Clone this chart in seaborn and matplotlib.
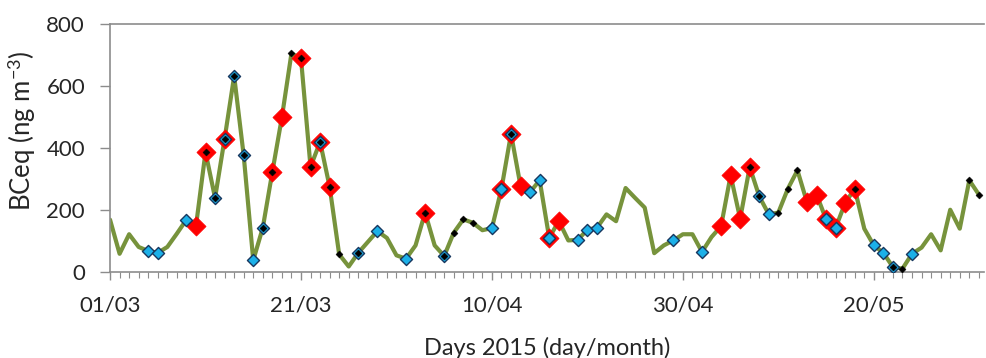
import numpy as np
import pandas as pd
import matplotlib
matplotlib.use("Agg")
import matplotlib.pyplot as plt
import matplotlib.dates as mdates
import seaborn as sns

# daily BCeq values, 01/03/2015 .. 31/05/2015
bceq = [169, 59, 122, 81, 68, 62, 81, 124, 169, 148,
        387, 239, 430, 632, 376, 38, 143, 323, 499, 705,
        689, 339, 420, 275, 57, 18, 62, 97, 132, 110,
        54, 43, 86, 192, 86, 52, 127, 170, 159, 135,
        142, 269, 446, 277, 258, 296, 110, 165, 102, 104,
        137, 143, 186, 164, 271, 239, 208, 61, 86, 102,
        122, 122, 65, 113, 148, 312, 172, 339, 244, 186,
        192, 269, 328, 225, 250, 170, 143, 223, 269, 140,
        86, 62, 16, 11, 59, 79, 122, 70, 201, 140,
        296, 250]
dates = pd.date_range("2015-03-01", periods=len(bceq), freq="D")

# day indices (from 01/03) flagged by each marker class
red_days = [9, 10, 12, 17, 18, 20, 21, 22, 23, 33, 41, 42, 43, 46, 47,
            64, 65, 66, 67, 73, 74, 75, 76, 77, 78]
blue_days = [4, 5, 8, 11, 12, 13, 14, 15, 16, 22, 26, 28, 31, 35, 40, 41, 42,
             44, 45, 46, 49, 50, 51, 59, 62, 68, 69, 75, 76, 80, 81, 82, 84]
black_days = [10, 11, 12, 13, 14, 16, 17, 19, 20, 21, 22, 23, 24, 26, 33, 35,
              36, 37, 38, 42, 67, 68, 70, 71, 72, 78, 82, 83, 90, 91]

tick_labels = ["01/03", "21/03", "10/04", "30/04", "20/05"]
yticks = [0, 200, 400, 600, 800]

df = pd.DataFrame({"date": dates, "bceq": bceq})

sns.set_style("white")
plt.rcParams["font.family"] = ["Lato", "DejaVu Sans"]
plt.rcParams["mathtext.fontset"] = "custom"
plt.rcParams["mathtext.rm"] = "Lato"
plt.rcParams["mathtext.it"] = "Lato:italic"
plt.rcParams["mathtext.bf"] = "Lato:bold"

fig = plt.figure(figsize=(9.86, 3.58), dpi=100)
ax = fig.add_axes([0.1116, 0.240, 0.886, 0.693])

sns.lineplot(data=df, x="date", y="bceq", ax=ax, color="#77933C", lw=3.0, zorder=2)
sns.scatterplot(data=df.iloc[red_days], x="date", y="bceq", ax=ax, marker="D",
                s=95, color="#FF0000", edgecolor="#FF0000", linewidth=0.5, zorder=3)
sns.scatterplot(data=df.iloc[blue_days], x="date", y="bceq", ax=ax, marker="D",
                s=38, color="#1CB0E8", edgecolor="#17375E", linewidth=1.0, zorder=4)
sns.scatterplot(data=df.iloc[black_days], x="date", y="bceq", ax=ax, marker="D",
                s=13, color="black", edgecolor="black", linewidth=0.3, zorder=5)

ax.set_ylim(0, 800)
ax.set_yticks(yticks)
ax.set_yticklabels([str(v) for v in yticks])
ax.set_xlim(dates[0], dates[0] + pd.Timedelta(days=91.5))
tick_pos = [pd.to_datetime(t + "/2015", format="%d/%m/%Y") for t in tick_labels]
ax.set_xticks(tick_pos)
ax.set_xticklabels(tick_labels)
ax.xaxis.set_minor_locator(mdates.DayLocator())

for s in ["left", "bottom", "top"]:
    ax.spines[s].set_color("#8C8C8C")
    ax.spines[s].set_linewidth(1.2)
ax.spines["right"].set_visible(False)

ax.tick_params(axis="y", which="major", direction="out", length=7, width=1.0,
               color="#8C8C8C", labelsize=16, pad=11, left=True)
ax.tick_params(axis="x", which="major", direction="out", length=5.5, width=1.0,
               color="#8C8C8C", labelsize=16, pad=11.5, bottom=True)
ax.tick_params(axis="x", which="minor", direction="out", length=4.5, width=0.8,
               color="#8C8C8C", bottom=True)

ax.set_xlabel("Days 2015 (day/month)", fontsize=17, labelpad=15)
ax.set_ylabel("BCeq (ng m$^{-3}$)", fontsize=18.5)
ax.yaxis.set_label_coords(-0.082, 0.57)

fig.savefig("out.png", dpi=100)
